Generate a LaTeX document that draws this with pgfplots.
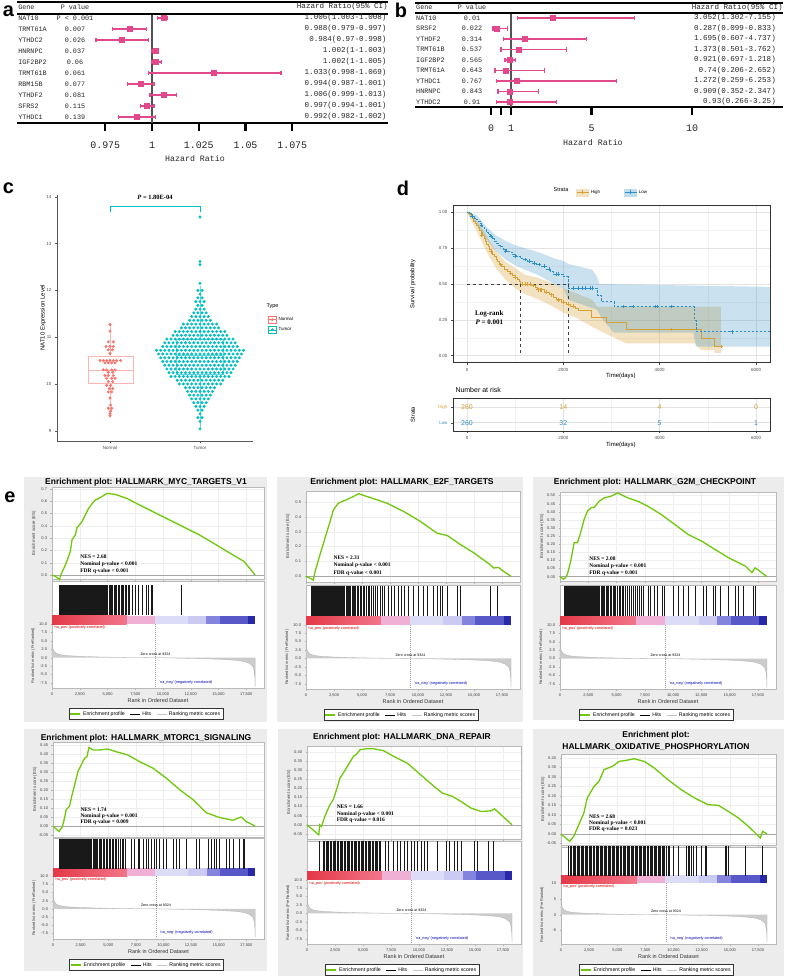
\documentclass[border=0pt]{standalone}
\usepackage{pgfplots}
\pgfplotsset{compat=1.18}
\usepackage{fontspec}
\setmainfont{Liberation Sans}
\newfontfamily\tnr{Liberation Serif}
\newfontfamily\mono{Liberation Mono}
\newcommand{\fsz}[1]{\fontsize{#1}{#1}\selectfont}
\definecolor{fpink}{RGB}{226,72,140}
\definecolor{nred}{RGB}{248,118,109}
\definecolor{tcyan}{RGB}{0,191,196}
\definecolor{kmo}{RGB}{214,160,52}
\definecolor{kmb}{RGB}{46,142,198}
\definecolor{ggreen}{RGB}{112,200,10}
\definecolor{gbg}{RGB}{236,236,236}
\definecolor{cb1}{RGB}{228,56,70}
\definecolor{cb2}{RGB}{242,118,138}
\definecolor{cb3}{RGB}{240,176,214}
\definecolor{cb4}{RGB}{220,220,247}
\definecolor{cb5}{RGB}{202,202,242}
\definecolor{cb6}{RGB}{132,132,222}
\definecolor{cb7}{RGB}{88,88,200}
\definecolor{cb8}{RGB}{40,40,168}
\pgfplotsset{/pgf/number format/assume math mode=true}
\tikzset{
  ftg/.style={font=\mono\fsz{6.8}, inner sep=0pt, text=black!85},
  fth/.style={font=\mono\fsz{7.6}, inner sep=0pt, text=black!85},
  ftk/.style={font=\mono\fsz{10}, inner sep=0pt, text=black!85},
  nes/.style={font=\tnr\bfseries\fsz{5.5}, anchor=west, inner sep=0pt},
  gtitle/.style={font=\bfseries\fsz{8.5}, inner sep=0pt},
  plet/.style={font=\bfseries\fsz{20}, inner sep=0pt},
}
\newcommand{\frow}[7]{%
  \node[ftg, anchor=west] at (axis cs:#2,#1) {#3};
  \node[ftg] at (axis cs:#4,#1) {#5};
  \node[fth, anchor=east] at (axis cs:#6,#1) {#7};}
\pgfplotsset{
  forest/.style={anchor=south west, scale only axis, clip=false,
    axis x line*=bottom, axis y line=none,
    x axis line style={-, line width=2.2bp},
    tick align=outside, major tick length=8bp,
    xtick style={line width=2.2bp, black}, xticklabels={}},
  frow/.style={only marks, fpink, mark=square*, mark size=2.5bp,
    error bars/.cd, x dir=both, x explicit,
    error bar style={line width=1.8bp, fpink},
    error mark options={rotate=90, line width=1.3bp, mark size=2.2bp, fpink}},
  hits/.style={forget plot, only marks, mark=|, mark size=15bp, mark options={line width=0.55bp, draw=black!90}},
  esax/.style={anchor=south west, scale only axis, xmin=0, xmax=19100, clip=false,
    axis background/.style={fill=white},
    axis line style={gray!55, line width=0.4bp}, tick pos=left,
    xtick={0,2500,5000,7500,10000,12500,15000,17500}, xticklabels={},
    grid=major, grid style={gray!13, line width=0.3bp},
    tick style={gray!60, line width=0.3bp}, major tick length=1.5bp, tick align=outside,
    yticklabel style={font=\fsz{4}, text=black!75, /pgf/number format/fixed, /pgf/number format/fixed zerofill, /pgf/number format/precision=2},
    ylabel={Enrichment score (ES)},
    ylabel style={font=\fsz{4.4}, text=black!75, at={(axis description cs:0,0.5)}, anchor=center, yshift=18bp}},
  loax/.style={anchor=south west, scale only axis, xmin=0, xmax=19100, clip=false,
    axis background/.style={fill=white},
    axis line style={gray!55, line width=0.4bp}, tick pos=left,
    xtick={0,2500,5000,7500,10000,12500,15000,17500}, scaled x ticks=false,
    xticklabel style={font=\fsz{4}, text=black!75, /pgf/number format/1000 sep={,}},
    tick style={gray!60, line width=0.3bp}, major tick length=1.5bp, tick align=outside,
    yticklabel style={font=\fsz{4}, text=black!75, /pgf/number format/fixed, /pgf/number format/fixed zerofill, /pgf/number format/precision=1},
    ytick={-7.5,-5,-2.5,0,2.5,5,7.5,10},
    xlabel={Rank in Ordered Dataset},
    xlabel style={font=\fsz{5.5}, text=black!80, at={(axis description cs:0.5,0)}, anchor=center, yshift=-13bp},
    ylabel={Ranked list metric (PreRanked)},
    ylabel style={font=\fsz{4}, text=black!75, at={(axis description cs:0,0.305)}, anchor=center, yshift=19bp},
    legend style={at={(axis description cs:0.5,0)}, anchor=center, xshift=-12bp, yshift=-26bp, legend columns=3, font=\fsz{5.2}, draw=black!80, inner sep=0.8bp, /tikz/every even column/.append style={column sep=3bp}},
    legend cell align=left,
    legend image code/.code={\draw[#1] (0bp,0bp) -- (10bp,0bp);}},
}
\newcommand{\lowercommon}{%
  \addplot[forget plot, draw=none, left color=cb1, right color=cb2] coordinates {(0,10)(6730,10)(6730,12.45)(0,12.45)};
  \addplot[forget plot, draw=none, fill=cb3] coordinates {(6730,10)(9270,10)(9270,12.45)(6730,12.45)};
  \addplot[forget plot, draw=none, fill=cb4] coordinates {(9270,10)(12260,10)(12260,12.45)(9270,12.45)};
  \addplot[forget plot, draw=none, fill=cb5] coordinates {(12260,10)(13900,10)(13900,12.45)(12260,12.45)};
  \addplot[forget plot, draw=none, fill=cb6] coordinates {(13900,10)(15100,10)(15100,12.45)(13900,12.45)};
  \addplot[forget plot, draw=none, fill=cb7] coordinates {(15100,10)(17640,10)(17640,12.45)(15100,12.45)};
  \addplot[forget plot, draw=none, fill=cb8] coordinates {(17640,10)(18300,10)(18300,12.45)(17640,12.45)};
  \addplot[forget plot, fill=gray!40, draw=gray!60, line width=0.3bp] coordinates {(0,0)(0,4.5)(40,3.3)(120,2.3)(250,1.6)(500,1.1)(900,0.8)(1500,0.6)(2500,0.42)(4000,0.25)(6000,0.12)(8000,0.04)(9324,0)(11000,-0.1)(13000,-0.25)(15000,-0.45)(16500,-0.75)(17300,-1.1)(17800,-1.7)(18100,-2.6)(18220,-4)(18280,-6)(18300,-8.6)(18300,0)};
  \addplot[forget plot, gray!80, line width=0.3bp, dash pattern=on 1bp off 1bp] coordinates {(9324,10)(9324,-8.9)};
  \node[font=\fsz{3.6}, inner sep=0pt] at (axis cs:9324,1.0) {Zero cross at 9324};
  \node[font=\fsz{3.8}, inner sep=0pt, anchor=west, text=red!85!black] at (axis cs:150,8.9) {'na\_pos' (positively correlated)};
  \node[font=\fsz{3.8}, inner sep=0pt, anchor=west, text=blue!70!black] at (axis cs:9650,-7.4) {'na\_neg' (negatively correlated)};
  \addlegendimage{ggreen, line width=1.2bp}\addlegendentry{Enrichment profile}
  \addlegendimage{black, line width=0.6bp}\addlegendentry{Hits}
  \addlegendimage{gray!45, line width=0.6bp}\addlegendentry{Ranking metric scores}
}
\begin{document}
\begin{tikzpicture}
\fill[white] (0,0) rectangle (786bp,-976bp);
\path[use as bounding box] (0,0) rectangle (786bp,-976bp);
% gray panels of e
\fill[gbg] (24bp,-477bp) rectangle (267bp,-722bp);
\fill[gbg] (277bp,-477bp) rectangle (523bp,-722bp);
\fill[gbg] (533bp,-477bp) rectangle (784bp,-720bp);
\fill[gbg] (24bp,-729bp) rectangle (267bp,-971bp);
\fill[gbg] (278bp,-729bp) rectangle (523bp,-976bp);
\fill[gbg] (533bp,-729bp) rectangle (784bp,-976bp);
% panel letters
\node[plet] at (8.5bp,-11bp) {a};
\node[plet] at (401bp,-10bp) {b};
\node[plet] at (8.5bp,-188bp) {c};
\node[plet] at (403bp,-188bp) {d};
\node[plet] at (10bp,-497bp) {e};

% ---------------- panel a
\begin{axis}[forest, at={(17bp,-123bp)}, width=371bp, height=121bp,
  xmin=0.92781, xmax=1.12620, ymin=-10.55, ymax=0.45,
  xtick={0.975,1,1.025,1.05,1.075}]
\addplot[forget plot, gray!65!black, line width=2.4bp] coordinates {(1,-0.64)(1,-10.55)};
\addplot[frow] coordinates {
(1.006,-1) += (0.002,0) -= (0.003,0)
(0.988,-2) += (0.009,0) -= (0.009,0)
(0.984,-3) += (0.014,0) -= (0.014,0)
(1.002,-4) += (0.001,0) -= (0.002,0)
(1.002,-5) += (0.003,0) -= (0.002,0)
(1.033,-6) += (0.036,0) -= (0.035,0)
(0.994,-7) += (0.007,0) -= (0.007,0)
(1.006,-8) += (0.007,0) -= (0.007,0)
(0.997,-9) += (0.004,0) -= (0.003,0)
(0.992,-10) += (0.010,0) -= (0.010,0)
};
\draw[line width=2.2bp] (rel axis cs:0,1) -- (rel axis cs:1,1);
\draw[line width=2bp] (axis cs:0.92781,-0.64) -- (axis cs:1.12620,-0.64);
\node[ftg, anchor=west] at (axis cs:0.9284,0) {Gene};
\node[ftg] at (axis cs:0.95882,0) {P value};
\node[fth, anchor=east] at (axis cs:1.1262,0) {Hazard Ratio(95\% CI)};
\frow{-1}{0.9284}{NAT10}{0.95882}{P < 0.001}{1.1255}{1.006(1.003-1.008)}
\frow{-2}{0.9284}{TRMT61A}{0.95882}{0.007}{1.1255}{0.988(0.979-0.997)}
\frow{-3}{0.9284}{YTHDC2}{0.95882}{0.026}{1.1255}{0.984(0.97-0.998)}
\frow{-4}{0.9284}{HNRNPC}{0.95882}{0.037}{1.1255}{1.002(1-1.003)}
\frow{-5}{0.9284}{IGF2BP2}{0.95882}{0.06}{1.1255}{1.002(1-1.005)}
\frow{-6}{0.9284}{TRMT61B}{0.95882}{0.061}{1.1255}{1.033(0.998-1.069)}
\frow{-7}{0.9284}{RBM15B}{0.95882}{0.077}{1.1255}{0.994(0.987-1.001)}
\frow{-8}{0.9284}{YTHDF2}{0.95882}{0.081}{1.1255}{1.006(0.999-1.013)}
\frow{-9}{0.9284}{SFRS2}{0.95882}{0.115}{1.1255}{0.997(0.994-1.001)}
\frow{-10}{0.9284}{YTHDC1}{0.95882}{0.139}{1.1255}{0.992(0.982-1.002)}
\node[ftk] at (axis cs:0.975,-12.55) {0.975};
\node[ftk] at (axis cs:1,-12.55) {1};
\node[ftk] at (axis cs:1.025,-12.55) {1.025};
\node[ftk] at (axis cs:1.05,-12.55) {1.05};
\node[ftk] at (axis cs:1.075,-12.55) {1.075};
\node[font=\mono\fsz{8.3}, text=black!85] at (axis cs:1.023,-13.82) {Hazard Ratio};
\end{axis}

% ---------------- panel b
\begin{axis}[forest, at={(415bp,-107bp)}, width=368bp, height=104bp,
  xmin=-3.781, xmax=14.527, ymin=-9.476, ymax=0.4286,
  xtick={0,0.5,1,5,10}]
\addplot[forget plot, gray!65!black, line width=2.4bp] coordinates {(1,-0.524)(1,-9.476)};
\addplot[frow] coordinates {
(3.052,-1) += (4.103,0) -= (1.75,0)
(0.287,-2) += (0.546,0) -= (0.188,0)
(1.695,-3) += (3.042,0) -= (1.088,0)
(1.373,-4) += (2.389,0) -= (0.872,0)
(0.921,-5) += (0.297,0) -= (0.224,0)
(0.74,-6) += (1.912,0) -= (0.534,0)
(1.272,-7) += (4.981,0) -= (1.013,0)
(0.909,-8) += (1.438,0) -= (0.557,0)
(0.93,-9) += (2.32,0) -= (0.664,0)
};
\draw[line width=2.2bp] (rel axis cs:0,1) -- (rel axis cs:1,1);
\draw[line width=2bp] (axis cs:-3.781,-0.524) -- (axis cs:14.527,-0.524);
\node[ftg, anchor=west] at (axis cs:-3.73,0) {Gene};
\node[ftg] at (axis cs:-0.945,0) {P value};
\node[fth, anchor=east] at (axis cs:14.52,0) {Hazard Ratio(95\% CI)};
\frow{-1}{-3.73}{NAT10}{-0.945}{0.01}{14.18}{3.052(1.302-7.155)}
\frow{-2}{-3.73}{SRSF2}{-0.945}{0.022}{14.18}{0.287(0.099-0.833)}
\frow{-3}{-3.73}{YTHDF2}{-0.945}{0.314}{14.18}{1.695(0.607-4.737)}
\frow{-4}{-3.73}{TRMT61B}{-0.945}{0.537}{14.18}{1.373(0.501-3.762)}
\frow{-5}{-3.73}{IGF2BP2}{-0.945}{0.565}{14.18}{0.921(0.697-1.218)}
\frow{-6}{-3.73}{TRMT61A}{-0.945}{0.643}{14.18}{0.74(0.206-2.652)}
\frow{-7}{-3.73}{YTHDC1}{-0.945}{0.767}{14.18}{1.272(0.259-6.253)}
\frow{-8}{-3.73}{HNRNPC}{-0.945}{0.843}{14.18}{0.909(0.352-2.347)}
\frow{-9}{-3.73}{YTHDC2}{-0.945}{0.91}{14.18}{0.93(0.266-3.25)}
\node[ftk] at (axis cs:0,-11.48) {0};
\node[ftk] at (axis cs:1,-11.48) {1};
\node[ftk] at (axis cs:5,-11.48) {5};
\node[ftk] at (axis cs:10,-11.48) {10};
\node[font=\mono\fsz{8.3}, text=black!85] at (axis cs:5.07,-12.9) {Hazard Ratio};
\end{axis}

% ---------------- panel c
\node[anchor=west, font=\fsz{5.5}] at (263bp,-306bp) {Type};
\begin{axis}[at={(57bp,-441bp)}, anchor=south west, scale only axis, width=196bp, height=246bp,
  xmin=0.411, xmax=2.589, ymin=8.78, ymax=14.04,
  axis x line*=bottom, axis y line*=left, axis line style={-, black!65, line width=0.5bp},
  xtick={1,2}, xticklabels={Normal,Tumor}, ytick={9,10,11,12,13,14},
  tick style={black!65, line width=0.4bp}, major tick length=2bp, tick align=outside,
  xticklabel style={font=\fsz{4.5}, text=black!70}, yticklabel style={font=\fsz{4.5}, text=black!70},
  ylabel={NAT10 Expression Level}, ylabel style={font=\fsz{6}, at={(axis description cs:0,0.5)}, anchor=center, yshift=14bp},
  clip=false,
  legend style={at={(axis description cs:1.061,0.52)}, anchor=north west, draw=none, fill=none, font=\fsz{4.5}, row sep=1.5bp},
  legend cell align=left,
  legend image code/.code={\draw[#1, line width=0.4bp] (0bp,-3.5bp) rectangle (8bp,3.5bp); \draw[#1, line width=0.4bp] (0bp,0bp) -- (8bp,0bp); \fill[#1] (4bp,0bp) circle (1.2bp);}]
\addplot[forget plot, nred!55, line width=0.6bp] coordinates {(0.759,10.02)(1.259,10.02)(1.259,10.6)(0.759,10.6)(0.759,10.02)};
\addplot[forget plot, nred!55, line width=0.8bp] coordinates {(0.759,10.3)(1.259,10.3)};
\addplot[forget plot, nred!55, line width=0.6bp] coordinates {(1,10.6)(1,11.27)};
\addplot[forget plot, nred!55, line width=0.6bp] coordinates {(1,10.02)(1,9.32)};
\addplot[forget plot, tcyan!60, line width=0.6bp] coordinates {(1.74,10.2)(2.26,10.2)(2.26,10.95)(1.74,10.95)(1.74,10.2)};
\addplot[forget plot, tcyan!60, line width=0.8bp] coordinates {(1.74,10.6)(2.26,10.6)};
\addplot[forget plot, tcyan!60, line width=0.6bp] coordinates {(2,10.95)(2,12.1)};
\addplot[forget plot, tcyan!60, line width=0.6bp] coordinates {(2,10.2)(2,9.05)};
\addplot[forget plot, only marks, nred, mark=*, mark size=1.3bp] coordinates {
(1,11.27)(1,11.13)(0.981,10.9)(1.037,10.9)(0.956,10.8)(1,10.8)(1.037,10.8)(0.981,10.73)(1.026,10.73)(1,10.65)
(0.889,10.5)(0.926,10.5)(0.963,10.5)(1,10.5)(1.037,10.5)(1.074,10.5)(1.119,10.5)
(0.944,10.45)(0.981,10.45)(1.019,10.45)(1.056,10.45)
(0.926,10.3)(0.963,10.3)(1.019,10.3)(1.056,10.3)(0.981,10.25)(1.03,10.25)
(0.944,10.18)(0.981,10.18)(1.037,10.18)(0.963,10.12)(1.019,10.12)(1.056,10.12)
(0.981,10.05)(1.03,10.05)(0.963,9.97)(1.007,9.97)(0.993,9.9)(1.03,9.9)(0.981,9.83)(1.019,9.83)
(1,9.7)(1.007,9.55)(0.981,9.48)(1.019,9.48)(1.007,9.42)(1,9.37)(1,9.32)};
\addplot[forget plot, only marks, tcyan, mark=*, mark size=1.3bp] coordinates {
(2,9.04)(2,9.2)(1.977,9.28)(2.023,9.28)(2,9.36)(1.977,9.44)(2.023,9.44)
(1.954,9.52)(2,9.52)(2.046,9.52)
(1.931,9.6)(1.977,9.6)(2.023,9.6)(2.069,9.6)
(1.908,9.68)(1.954,9.68)(2,9.68)(2.046,9.68)(2.092,9.68)
(1.885,9.76)(1.931,9.76)(1.977,9.76)(2.023,9.76)(2.069,9.76)(2.115,9.76)
(1.862,9.84)(1.908,9.84)(1.954,9.84)(2,9.84)(2.046,9.84)(2.092,9.84)(2.138,9.84)
(1.839,9.92)(1.885,9.92)(1.931,9.92)(1.977,9.92)(2.023,9.92)(2.069,9.92)(2.115,9.92)(2.161,9.92)
(1.77,10)(1.816,10)(1.862,10)(1.908,10)(1.954,10)(2,10)(2.046,10)(2.092,10)(2.138,10)(2.184,10)(2.23,10)
(1.747,10.08)(1.793,10.08)(1.839,10.08)(1.885,10.08)(1.931,10.08)(1.977,10.08)(2.023,10.08)(2.069,10.08)(2.115,10.08)(2.161,10.08)(2.207,10.08)(2.253,10.08)
(1.678,10.16)(1.724,10.16)(1.77,10.16)(1.816,10.16)(1.862,10.16)(1.908,10.16)(1.954,10.16)(2,10.16)(2.046,10.16)(2.092,10.16)(2.138,10.16)(2.184,10.16)(2.23,10.16)(2.276,10.16)(2.322,10.16)
(1.655,10.24)(1.701,10.24)(1.747,10.24)(1.793,10.24)(1.839,10.24)(1.885,10.24)(1.931,10.24)(1.977,10.24)(2.023,10.24)(2.069,10.24)(2.115,10.24)(2.161,10.24)(2.207,10.24)(2.253,10.24)(2.299,10.24)(2.345,10.24)
(1.632,10.32)(1.678,10.32)(1.724,10.32)(1.77,10.32)(1.816,10.32)(1.862,10.32)(1.908,10.32)(1.954,10.32)(2,10.32)(2.046,10.32)(2.092,10.32)(2.138,10.32)(2.184,10.32)(2.23,10.32)(2.276,10.32)(2.322,10.32)(2.368,10.32)
(1.609,10.4)(1.655,10.4)(1.701,10.4)(1.747,10.4)(1.793,10.4)(1.839,10.4)(1.885,10.4)(1.931,10.4)(1.977,10.4)(2.023,10.4)(2.069,10.4)(2.115,10.4)(2.161,10.4)(2.207,10.4)(2.253,10.4)(2.299,10.4)(2.345,10.4)(2.391,10.4)
(1.586,10.48)(1.632,10.48)(1.678,10.48)(1.724,10.48)(1.77,10.48)(1.816,10.48)(1.862,10.48)(1.908,10.48)(1.954,10.48)(2,10.48)(2.046,10.48)(2.092,10.48)(2.138,10.48)(2.184,10.48)(2.23,10.48)(2.276,10.48)(2.322,10.48)(2.368,10.48)(2.414,10.48)
(1.563,10.56)(1.609,10.56)(1.655,10.56)(1.701,10.56)(1.747,10.56)(1.793,10.56)(1.839,10.56)(1.885,10.56)(1.931,10.56)(1.977,10.56)(2.023,10.56)(2.069,10.56)(2.115,10.56)(2.161,10.56)(2.207,10.56)(2.253,10.56)(2.299,10.56)(2.345,10.56)(2.391,10.56)(2.437,10.56)
(1.54,10.64)(1.586,10.64)(1.632,10.64)(1.678,10.64)(1.724,10.64)(1.77,10.64)(1.816,10.64)(1.862,10.64)(1.908,10.64)(1.954,10.64)(2,10.64)(2.046,10.64)(2.092,10.64)(2.138,10.64)(2.184,10.64)(2.23,10.64)(2.276,10.64)(2.322,10.64)(2.368,10.64)(2.414,10.64)(2.46,10.64)
(1.517,10.72)(1.563,10.72)(1.609,10.72)(1.655,10.72)(1.701,10.72)(1.747,10.72)(1.793,10.72)(1.839,10.72)(1.885,10.72)(1.931,10.72)(1.977,10.72)(2.023,10.72)(2.069,10.72)(2.115,10.72)(2.161,10.72)(2.207,10.72)(2.253,10.72)(2.299,10.72)(2.345,10.72)(2.391,10.72)(2.437,10.72)(2.483,10.72)
(1.586,10.8)(1.632,10.8)(1.678,10.8)(1.724,10.8)(1.77,10.8)(1.816,10.8)(1.862,10.8)(1.908,10.8)(1.954,10.8)(2,10.8)(2.046,10.8)(2.092,10.8)(2.138,10.8)(2.184,10.8)(2.23,10.8)(2.276,10.8)(2.322,10.8)(2.368,10.8)(2.414,10.8)
(1.609,10.88)(1.655,10.88)(1.701,10.88)(1.747,10.88)(1.793,10.88)(1.839,10.88)(1.885,10.88)(1.931,10.88)(1.977,10.88)(2.023,10.88)(2.069,10.88)(2.115,10.88)(2.161,10.88)(2.207,10.88)(2.253,10.88)(2.299,10.88)(2.345,10.88)(2.391,10.88)
(1.632,10.96)(1.678,10.96)(1.724,10.96)(1.77,10.96)(1.816,10.96)(1.862,10.96)(1.908,10.96)(1.954,10.96)(2,10.96)(2.046,10.96)(2.092,10.96)(2.138,10.96)(2.184,10.96)(2.23,10.96)(2.276,10.96)(2.322,10.96)(2.368,10.96)
(1.701,11.04)(1.747,11.04)(1.793,11.04)(1.839,11.04)(1.885,11.04)(1.931,11.04)(1.977,11.04)(2.023,11.04)(2.069,11.04)(2.115,11.04)(2.161,11.04)(2.207,11.04)(2.253,11.04)(2.299,11.04)
(1.724,11.12)(1.77,11.12)(1.816,11.12)(1.862,11.12)(1.908,11.12)(1.954,11.12)(2,11.12)(2.046,11.12)(2.092,11.12)(2.138,11.12)(2.184,11.12)(2.23,11.12)(2.276,11.12)
(1.793,11.2)(1.839,11.2)(1.885,11.2)(1.931,11.2)(1.977,11.2)(2.023,11.2)(2.069,11.2)(2.115,11.2)(2.161,11.2)(2.207,11.2)
(1.816,11.28)(1.862,11.28)(1.908,11.28)(1.954,11.28)(2,11.28)(2.046,11.28)(2.092,11.28)(2.138,11.28)(2.184,11.28)
(1.885,11.36)(1.931,11.36)(1.977,11.36)(2.023,11.36)(2.069,11.36)(2.115,11.36)
(1.908,11.44)(1.954,11.44)(2,11.44)(2.046,11.44)(2.092,11.44)
(1.931,11.52)(1.977,11.52)(2.023,11.52)(2.069,11.52)
(1.954,11.6)(2,11.6)(2.046,11.6)
(1.977,11.68)(2.023,11.68)
(1.954,11.76)(2,11.76)(2.046,11.76)
(1.977,11.84)(2.023,11.84)
(2,11.92)(1.977,12)(2.023,12)(2,12.15)(2,12.55)(2,12.62)(2,13.57)};
\addplot[forget plot, tcyan, line width=0.5bp] coordinates {(1,13.68)(1,13.8)(2,13.8)(2,13.68)};
\node[font=\tnr\bfseries\fsz{6.5}] at (axis cs:1.5,13.98) {\textit{P} = 1.80E-04};
\addlegendimage{nred}\addlegendentry{Normal}
\addlegendimage{tcyan}\addlegendentry{Tumor}
\end{axis}

% ---------------- panel d
\node[font=\fsz{5.5}] at (561bp,-190bp) {Strata};
\begin{axis}[at={(453bp,-362.7bp)}, anchor=south west, scale only axis, width=317.7bp, height=157.7bp,
  xmin=-290.6, xmax=6305, ymin=-0.049, ymax=1.051,
  xtick={0,2000,4000,6000}, minor xtick={1000,3000,5000}, ytick={0,0.25,0.5,0.75,1}, minor ytick={0.125,0.375,0.625,0.875},
  grid=both, major grid style={gray!22, line width=0.45bp}, minor grid style={gray!10, line width=0.35bp},
  axis line style={black!80, line width=0.5bp}, tick style={black!70, line width=0.4bp}, major tick length=2bp, minor tick length=0bp, tick align=outside, tick pos=left,
  scaled x ticks=false, xticklabel style={font=\fsz{4.5}, text=black!70, /pgf/number format/1000 sep={}},
  yticklabel style={font=\fsz{4.5}, text=black!70, /pgf/number format/fixed, /pgf/number format/fixed zerofill, /pgf/number format/precision=2},
  xlabel={Time(days)}, xlabel style={font=\fsz{6}, at={(axis description cs:0.5,0)}, anchor=center, yshift=-13.3bp, xshift=9bp},
  ylabel={Survival probability}, ylabel style={font=\fsz{5.8}, at={(axis description cs:0,0.5)}, anchor=center, yshift=40bp},
  legend style={at={(axis description cs:0.378,1)}, anchor=south west, yshift=6bp, legend columns=2, draw=none, fill=none, font=\fsz{4.5}, /tikz/every even column/.append style={column sep=22bp}}]
\addplot[forget plot, draw=none, fill=kmo, fill opacity=0.3] coordinates {(0,1)(200,0.95)(400,0.84)(600,0.73)(800,0.655)(1000,0.61)(1200,0.565)(1500,0.54)(1800,0.5)(2000,0.47)(2300,0.43)(2600,0.39)(2700,0.342)(5273,0.342)(5273,0.02)(5135,0.02)(5135,0.04)(4860,0.04)(4720,0.086)(3300,0.086)(2900,0.15)(2600,0.2)(2300,0.26)(2000,0.3)(1800,0.34)(1500,0.39)(1200,0.43)(1000,0.47)(800,0.53)(600,0.61)(400,0.73)(200,0.87)(0,1)};
\addplot[forget plot, draw=none, fill=kmb, fill opacity=0.25] coordinates {(0,1)(200,0.98)(400,0.9)(600,0.84)(800,0.8)(1000,0.77)(1200,0.75)(1500,0.72)(1800,0.68)(2000,0.66)(2100,0.64)(2600,0.6)(2700,0.55)(2750,0.5)(6300,0.48)(6300,0.063)(4760,0.063)(4720,0.12)(4700,0.16)(3050,0.16)(2800,0.26)(2700,0.32)(2100,0.39)(2000,0.47)(1800,0.5)(1500,0.56)(1200,0.6)(1000,0.63)(800,0.67)(600,0.73)(400,0.81)(200,0.92)(0,1)};
\addplot[forget plot, const plot, kmo, line width=0.7bp] coordinates {(0,1)(20,0.995)(50,0.985)(80,0.97)(110,0.955)(140,0.94)(170,0.925)(200,0.91)(230,0.895)(260,0.875)(290,0.86)(320,0.84)(350,0.82)(380,0.8)(410,0.78)(440,0.76)(470,0.74)(500,0.725)(530,0.71)(560,0.695)(600,0.675)(640,0.655)(680,0.635)(720,0.62)(770,0.605)(830,0.59)(890,0.575)(950,0.56)(1000,0.545)(1040,0.53)(1080,0.515)(1110,0.5)(1330,0.49)(1420,0.475)(1470,0.46)(1600,0.445)(1700,0.425)(1800,0.405)(1860,0.39)(1960,0.375)(2060,0.36)(2150,0.345)(2250,0.33)(2320,0.315)(2580,0.27)(2890,0.23)(3300,0.184)(4860,0.121)(5135,0.063)(5273,0.063)};
\addplot[forget plot, const plot, kmb, line width=0.7bp, dash pattern=on 2.5bp off 1.5bp] coordinates {(0,1)(40,0.99)(80,0.98)(120,0.97)(160,0.96)(200,0.95)(240,0.94)(280,0.92)(320,0.9)(360,0.88)(400,0.86)(440,0.845)(480,0.83)(520,0.815)(560,0.8)(600,0.785)(650,0.77)(700,0.76)(760,0.745)(820,0.73)(880,0.72)(950,0.705)(1020,0.695)(1100,0.68)(1150,0.67)(1250,0.66)(1350,0.645)(1450,0.635)(1550,0.625)(1650,0.605)(1720,0.59)(1790,0.57)(1990,0.55)(2094,0.47)(2700,0.423)(2786,0.377)(3050,0.342)(4720,0.249)(4760,0.167)(6300,0.167)};
\addplot[forget plot, only marks, mark=+, mark size=1.8bp, kmo, mark options={line width=0.5bp}] coordinates {(300,0.84)(500,0.725)(700,0.635)(900,0.575)(1000,0.545)(1150,0.5)(1200,0.5)(1260,0.5)(1320,0.5)(1380,0.49)(1480,0.46)(1520,0.46)(1550,0.46)(1650,0.445)(1750,0.425)(1900,0.39)(2000,0.375)(2100,0.36)(2200,0.345)(4250,0.184)(5273,0.063)};
\addplot[forget plot, only marks, mark=+, mark size=1.8bp, kmb, mark options={line width=0.5bp}] coordinates {(100,0.975)(300,0.91)(500,0.83)(800,0.73)(1000,0.695)(1200,0.67)(1300,0.66)(1400,0.645)(1500,0.635)(1600,0.625)(1700,0.605)(1850,0.57)(1900,0.57)(2200,0.47)(2300,0.47)(2400,0.47)(2450,0.47)(2550,0.47)(2600,0.47)(3250,0.342)(3450,0.342)(3900,0.342)(3950,0.342)(4250,0.342)(5500,0.167)};
\addplot[forget plot, black!75, dashed, line width=0.5bp] coordinates {(0,0.5)(2094,0.5)};
\addplot[forget plot, black!75, dashed, line width=0.5bp] coordinates {(1100,0.5)(1100,0)};
\addplot[forget plot, black!75, dashed, line width=0.5bp] coordinates {(2094,0.5)(2094,0)};
\node[font=\tnr\bfseries\fsz{7}] at (axis cs:463,0.295) {Log-rank};
\node[font=\tnr\bfseries\fsz{7}] at (axis cs:463,0.23) {\textit{P} = 0.001};
\addlegendimage{legend image code/.code={\fill[kmo!30] (0bp,-3.5bp) rectangle (12bp,3.5bp); \draw[kmo, line width=0.7bp] (0bp,0bp)--(12bp,0bp); \draw[kmo, line width=0.5bp] (6bp,-2bp)--(6bp,2bp);}}
\addlegendentry{High}
\addlegendimage{legend image code/.code={\fill[kmb!30] (0bp,-3.5bp) rectangle (12bp,3.5bp); \draw[kmb, line width=0.7bp] (0bp,0bp)--(12bp,0bp); \draw[kmb, line width=0.5bp] (6bp,-2bp)--(6bp,2bp);}}
\addlegendentry{Low}
\end{axis}
\node[anchor=west, font=\fsz{7}] at (452bp,-390bp) {Number at risk};
\begin{axis}[at={(453bp,-431bp)}, anchor=south west, scale only axis, width=317.7bp, height=32.7bp,
  xmin=-290.6, xmax=6305, ymin=0.461, ymax=2.584,
  xtick={0,2000,4000,6000}, minor xtick={1000,3000,5000}, ytick={1,2}, yticklabels={\textcolor{kmb}{Low},\textcolor{kmo}{High}},
  grid=both, major grid style={gray!22, line width=0.45bp}, minor grid style={gray!10, line width=0.35bp},
  axis line style={black!80, line width=0.5bp}, tick style={black!70, line width=0.4bp}, major tick length=2bp, minor tick length=0bp, tick align=outside, tick pos=left,
  scaled x ticks=false, xticklabel style={font=\fsz{4.5}, text=black!70, /pgf/number format/1000 sep={}},
  yticklabel style={font=\fsz{4.5}},
  xlabel={Time(days)}, xlabel style={font=\fsz{6}, at={(axis description cs:0.5,0)}, anchor=center, yshift=-13.5bp, xshift=9bp},
  ylabel={Strata}, ylabel style={font=\fsz{5.8}, at={(axis description cs:0,0.5)}, anchor=center, yshift=40bp}]
\node[font=\fsz{7}, text=kmo] at (axis cs:0,2) {260};
\node[font=\fsz{7}, text=kmo] at (axis cs:2000,2) {14};
\node[font=\fsz{7}, text=kmo] at (axis cs:4000,2) {4};
\node[font=\fsz{7}, text=kmo] at (axis cs:6000,2) {0};
\node[font=\fsz{7}, text=kmb] at (axis cs:0,1) {260};
\node[font=\fsz{7}, text=kmb] at (axis cs:2000,1) {32};
\node[font=\fsz{7}, text=kmb] at (axis cs:4000,1) {5};
\node[font=\fsz{7}, text=kmb] at (axis cs:6000,1) {1};
\end{axis}

% ---------------- panel e titles
\node[gtitle] at (146bp,-482bp) {Enrichment plot: HALLMARK\_MYC\_TARGETS\_V1};
\node[gtitle] at (402bp,-482bp) {Enrichment plot: HALLMARK\_E2F\_TARGETS};
\node[gtitle] at (655bp,-482bp) {Enrichment plot: HALLMARK\_G2M\_CHECKPOINT};
\node[gtitle] at (146bp,-738bp) {Enrichment plot: HALLMARK\_MTORC1\_SIGNALING};
\node[gtitle] at (402bp,-737bp) {Enrichment plot: HALLMARK\_DNA\_REPAIR};
\node[gtitle] at (656bp,-735bp) {Enrichment plot:};
\node[gtitle] at (656bp,-747bp) {HALLMARK\_OXIDATIVE\_PHOSPHORYLATION};

% ---- E1
\begin{axis}[esax, at={(52bp,-579bp)}, width=212bp, height=92bp, ymin=-0.033, ymax=0.716,
  ytick={0,0.1,0.2,0.3,0.4,0.5,0.6,0.7}, yticklabel style={/pgf/number format/precision=1}]
\addplot[forget plot, gray!70, line width=0.4bp] coordinates {(0,0)(19100,0)};
\addplot[forget plot, ggreen, line width=1.3bp] coordinates {(0,0)(300,-0.012)(690,-0.038)(750,-0.01)(900,0.022)(1200,0.08)(1450,0.14)(1650,0.19)(1800,0.285)(2100,0.325)(2250,0.385)(2700,0.433)(3000,0.488)(3300,0.542)(3650,0.585)(3900,0.61)(4350,0.63)(4950,0.664)(5300,0.66)(5700,0.656)(6200,0.64)(6750,0.623)(7900,0.569)(9100,0.515)(10300,0.461)(11800,0.393)(13300,0.325)(14800,0.245)(16300,0.163)(17300,0.11)(18300,0)};
\node[nes] at (axis cs:2540,0.146) {NES = 2.68};
\node[nes] at (axis cs:2540,0.09) {Nominal p-value < 0.001};
\node[nes] at (axis cs:2540,0.034) {FDR q-value < 0.001};
\end{axis}
\begin{axis}[loax, at={(52bp,-688bp)}, width=212bp, height=107bp, ymin=-8.99, ymax=22.76]
\lowercommon
\addplot[hits] coordinates {(650,17)(730,17)(800,17)(880,17)(940,17)(1010,17)(1090,17)(1160,17)(1240,17)(1300,17)(1380,17)(1450,17)(1530,17)(1600,17)(1680,17)(1740,17)(1820,17)(1900,17)(1970,17)(2050,17)(2120,17)(2190,17)(2270,17)(2340,17)(2420,17)(2490,17)(2570,17)(2650,17)(2720,17)(2800,17)(2870,17)(2950,17)(3020,17)(3100,17)(3180,17)(3250,17)(3330,17)(3420,17)(3500,17)(3580,17)(3650,17)(3740,17)(3820,17)(3910,17)(3990,17)(4080,17)(4170,17)(4260,17)(4350,17)(4440,17)(4530,17)(4620,17)(4720,17)(4820,17)(4920,17)(5020,17)(5130,17)(5230,17)(5350,17)(5460,17)(5580,17)(5700,17)(5830,17)(5950,17)(6080,17)(6200,17)(6330,17)(6460,17)(6600,17)(6720,17)(6850,17)(7000,17)(7250,17)(7500,17)(7750,17)(8100,17)(8450,17)(8650,17)(8900,17)(9050,17)(11650,17)};
\end{axis}

% ---- E2
\begin{axis}[esax, at={(306bp,-582bp)}, width=214bp, height=91bp, ymin=-0.038, ymax=0.574,
  ytick={0,0.1,0.2,0.3,0.4,0.5}, yticklabel style={/pgf/number format/precision=1}]
\addplot[forget plot, gray!70, line width=0.4bp] coordinates {(0,0)(19100,0)};
\addplot[forget plot, ggreen, line width=1.3bp] coordinates {(0,0)(500,-0.018)(650,-0.025)(800,0.03)(1250,0.146)(1700,0.258)(2150,0.37)(2450,0.448)(2900,0.493)(3650,0.516)(4250,0.538)(4700,0.556)(5400,0.538)(6300,0.516)(7200,0.493)(8700,0.437)(10200,0.37)(11700,0.29)(12600,0.275)(13800,0.213)(15000,0.157)(16450,0.078)(16750,0.056)(17200,0.06)(17500,0.04)(18300,0)};
\node[nes] at (axis cs:2444,0.123) {NES = 2.31};
\node[nes] at (axis cs:2444,0.072) {Nominal p-value < 0.001};
\node[nes] at (axis cs:2444,0.022) {FDR q-value < 0.001};
\end{axis}
\begin{axis}[loax, at={(306bp,-689bp)}, width=214bp, height=104bp, ymin=-9.07, ymax=21.78]
\lowercommon
\addplot[hits] coordinates {(500,17)(570,17)(640,17)(710,17)(780,17)(850,17)(920,17)(990,17)(1060,17)(1130,17)(1200,17)(1270,17)(1340,17)(1410,17)(1480,17)(1550,17)(1620,17)(1690,17)(1760,17)(1830,17)(1900,17)(1970,17)(2040,17)(2110,17)(2180,17)(2250,17)(2320,17)(2390,17)(2460,17)(2530,17)(2600,17)(2680,17)(2760,17)(2840,17)(2920,17)(3000,17)(3090,17)(3180,17)(3270,17)(3360,17)(3460,17)(3560,17)(3660,17)(3760,17)(3870,17)(3980,17)(4090,17)(4200,17)(4320,17)(4440,17)(4560,17)(4690,17)(4820,17)(4950,17)(5090,17)(5230,17)(5380,17)(5530,17)(5690,17)(5850,17)(6020,17)(6200,17)(6400,17)(6600,17)(6800,17)(7000,17)(7300,17)(7600,17)(7900,17)(8200,17)(8500,17)(8800,17)(9150,17)(9600,17)(10040,17)(10490,17)(10790,17)(11380,17)(11680,17)(11980,17)(12130,17)(12580,17)(13470,17)(13770,17)(16450,17)(17100,17)};
\end{axis}

% ---- E3
\begin{axis}[esax, at={(560bp,-581bp)}, width=216bp, height=89bp, ymin=-0.027, ymax=0.522,
  ytick={0,0.05,0.1,0.15,0.2,0.25,0.3,0.35,0.4,0.45,0.5}]
\addplot[forget plot, gray!70, line width=0.4bp] coordinates {(0,0)(19100,0)};
\addplot[forget plot, ggreen, line width=1.3bp] coordinates {(0,0)(300,-0.016)(500,-0.006)(650,0.014)(950,0.096)(1250,0.209)(1540,0.209)(1780,0.26)(2130,0.352)(2430,0.404)(2730,0.424)(3030,0.428)(3470,0.465)(3920,0.486)(4510,0.496)(5100,0.516)(5990,0.486)(6880,0.465)(7770,0.434)(8960,0.383)(10140,0.322)(11330,0.26)(12520,0.219)(13700,0.168)(14890,0.117)(15780,0.086)(16370,0.066)(16970,0.025)(17260,0.055)(18300,0)};
\node[nes] at (axis cs:2580,0.113) {NES = 2.08};
\node[nes] at (axis cs:2580,0.066) {Nominal p-value < 0.001};
\node[nes] at (axis cs:2580,0.02) {FDR q-value = 0.001};
\end{axis}
\begin{axis}[loax, at={(560bp,-689bp)}, width=216bp, height=104bp, ymin=-8.97, ymax=21.71]
\lowercommon
\addplot[hits] coordinates {(350,17)(420,17)(490,17)(560,17)(630,17)(700,17)(770,17)(840,17)(910,17)(980,17)(1050,17)(1120,17)(1190,17)(1260,17)(1330,17)(1400,17)(1480,17)(1560,17)(1640,17)(1720,17)(1800,17)(1880,17)(1960,17)(2040,17)(2120,17)(2200,17)(2290,17)(2380,17)(2470,17)(2560,17)(2650,17)(2740,17)(2830,17)(2920,17)(3010,17)(3110,17)(3210,17)(3310,17)(3410,17)(3510,17)(3620,17)(3730,17)(3840,17)(3950,17)(4060,17)(4180,17)(4300,17)(4420,17)(4540,17)(4670,17)(4800,17)(4930,17)(5060,17)(5200,17)(5340,17)(5480,17)(5630,17)(5780,17)(5940,17)(6100,17)(6270,17)(6440,17)(6620,17)(6800,17)(7000,17)(7200,17)(7400,17)(7770,17)(8000,17)(8300,17)(8600,17)(9000,17)(9250,17)(10000,17)(10440,17)(10890,17)(11330,17)(11920,17)(12660,17)(12960,17)(13550,17)(13700,17)(14150,17)(14890,17)(15480,17)(15720,17)(16220,17)(17110,17)(17260,17)};
\end{axis}

% ---- E4
\begin{axis}[esax, at={(53bp,-837bp)}, width=211bp, height=95bp, ymin=-0.06, ymax=0.467,
  ytick={-0.05,0,0.05,0.1,0.15,0.2,0.25,0.3,0.35,0.4,0.45}]
\addplot[forget plot, gray!70, line width=0.4bp] coordinates {(0,0)(19100,0)};
\addplot[forget plot, ggreen, line width=1.3bp] coordinates {(0,0)(540,-0.029)(840,-0.004)(1055,0.048)(1200,0.093)(1510,0.112)(1660,0.157)(1960,0.23)(2260,0.304)(2560,0.34)(2860,0.377)(3075,0.386)(3256,0.437)(3620,0.423)(4220,0.423)(4975,0.428)(5730,0.413)(6780,0.395)(7840,0.358)(9045,0.322)(10250,0.267)(11460,0.203)(12660,0.148)(13870,0.075)(15075,0.048)(16280,0.033)(17034,0.051)(17490,0.026)(18300,0)};
\node[nes] at (axis cs:2472,0.093) {NES = 1.74};
\node[nes] at (axis cs:2472,0.057) {Nominal p-value = 0.001};
\node[nes] at (axis cs:2472,0.02) {FDR q-value = 0.009};
\end{axis}
\begin{axis}[loax, at={(53bp,-939bp)}, width=211bp, height=101bp, ymin=-9.25, ymax=21.76]
\lowercommon
\addplot[hits] coordinates {(540,17)(620,17)(700,17)(780,17)(860,17)(940,17)(1020,17)(1100,17)(1180,17)(1260,17)(1340,17)(1420,17)(1500,17)(1580,17)(1660,17)(1740,17)(1820,17)(1900,17)(1990,17)(2080,17)(2170,17)(2260,17)(2350,17)(2440,17)(2530,17)(2620,17)(2710,17)(2800,17)(2900,17)(3000,17)(3100,17)(3200,17)(3300,17)(3400,17)(3500,17)(3610,17)(3720,17)(3830,17)(3940,17)(4050,17)(4170,17)(4290,17)(4410,17)(4530,17)(4660,17)(4790,17)(4920,17)(5050,17)(5190,17)(5330,17)(5470,17)(5620,17)(5770,17)(5920,17)(6080,17)(6240,17)(6400,17)(6550,17)(7085,17)(7387,17)(7688,17)(7839,17)(8140,17)(8442,17)(8593,17)(8894,17)(9196,17)(9347,17)(9648,17)(9950,17)(10251,17)(10854,17)(11156,17)(11457,17)(12060,17)(12965,17)(13266,17)(14020,17)(14321,17)(14623,17)(14774,17)(15075,17)(15678,17)(15980,17)(16281,17)(16884,17)(17186,17)(17337,17)};
\end{axis}

% ---- E5
\begin{axis}[esax, at={(307bp,-839bp)}, width=214bp, height=93bp, ymin=-0.078, ymax=0.433,
  ytick={-0.05,0,0.05,0.1,0.15,0.2,0.25,0.3,0.35,0.4}]
\addplot[forget plot, gray!70, line width=0.4bp] coordinates {(0,0)(19100,0)};
\addplot[forget plot, ggreen, line width=1.3bp] coordinates {(0,0)(540,-0.028)(1050,-0.055)(1140,0)(1290,-0.009)(1590,0.046)(2040,0.11)(2340,0.138)(2640,0.193)(2940,0.257)(3240,0.284)(3690,0.33)(4140,0.376)(4440,0.389)(4740,0.413)(5340,0.418)(5940,0.418)(6840,0.407)(7740,0.376)(8940,0.339)(10140,0.275)(11340,0.211)(12090,0.174)(12990,0.156)(13740,0.128)(14640,0.092)(15540,0.073)(16440,0.077)(16740,0.088)(18300,0)};
\node[nes] at (axis cs:2640,0.097) {NES = 1.66};
\node[nes] at (axis cs:2640,0.061) {Nominal p-value < 0.001};
\node[nes] at (axis cs:2640,0.024) {FDR q-value = 0.016};
\end{axis}
\begin{axis}[loax, at={(307bp,-944bp)}, width=214bp, height=103bp, ymin=-9.07, ymax=21.48]
\lowercommon
\addplot[hits] coordinates {(1080,17)(1440,17)(1560,17)(1690,17)(1810,17)(1940,17)(2060,17)(2190,17)(2310,17)(2440,17)(2560,17)(2690,17)(2810,17)(2940,17)(3060,17)(3190,17)(3310,17)(3440,17)(3560,17)(3690,17)(3810,17)(3940,17)(4060,17)(4190,17)(4310,17)(4440,17)(4560,17)(4690,17)(4810,17)(4940,17)(5060,17)(5190,17)(5310,17)(5440,17)(5560,17)(5690,17)(5810,17)(5940,17)(6060,17)(6190,17)(6310,17)(6440,17)(6540,17)(6990,17)(7290,17)(7740,17)(8040,17)(8340,17)(8700,17)(8940,17)(9300,17)(9540,17)(9840,17)(10200,17)(10500,17)(10740,17)(11640,17)(12390,17)(12690,17)(13140,17)(13440,17)(13740,17)(14940,17)(15180,17)(16140,17)(16590,17)};
\end{axis}

% ---- E6
\begin{axis}[esax, at={(561bp,-845bp)}, width=215bp, height=91bp, ymin=-0.058, ymax=0.421,
  ytick={-0.05,0,0.05,0.1,0.15,0.2,0.25,0.3,0.35,0.4}]
\addplot[forget plot, gray!70, line width=0.4bp] coordinates {(0,0)(19100,0)};
\addplot[forget plot, ggreen, line width=1.3bp] coordinates {(0,0)(776,-0.039)(1134,-0.012)(1582,0.049)(2030,0.11)(2328,0.189)(2925,0.25)(3373,0.277)(3821,0.339)(4567,0.356)(5164,0.382)(5910,0.389)(6507,0.396)(7403,0.382)(8298,0.347)(9492,0.286)(10686,0.233)(11881,0.189)(13074,0.154)(13970,0.151)(14865,0.119)(15761,0.084)(16657,0.04)(17701,-0.021)(17910,0.014)(18300,0)};
\node[nes] at (axis cs:2478,0.093) {NES = 2.68};
\node[nes] at (axis cs:2478,0.058) {Nominal p-value < 0.001};
\node[nes] at (axis cs:2478,0.023) {FDR q-value = 0.023};
\end{axis}
\begin{axis}[loax, at={(561bp,-944bp)}, width=215bp, height=97bp, ymin=-9.24, ymax=21.36,
  ytick={-5,0,5,10}, yticklabel style={/pgf/number format/precision=0}]
\lowercommon
\addplot[hits] coordinates {(690,17)(810,17)(930,17)(1050,17)(1170,17)(1290,17)(1410,17)(1530,17)(1650,17)(1770,17)(1890,17)(2010,17)(2130,17)(2250,17)(2370,17)(2490,17)(2610,17)(2730,17)(2850,17)(2970,17)(3090,17)(3210,17)(3330,17)(3450,17)(3570,17)(3690,17)(3810,17)(3930,17)(4050,17)(4170,17)(4290,17)(4410,17)(4530,17)(4650,17)(4770,17)(4890,17)(5010,17)(5130,17)(5250,17)(5370,17)(5490,17)(5610,17)(5730,17)(5850,17)(5970,17)(6090,17)(6210,17)(6330,17)(6450,17)(6570,17)(6690,17)(6810,17)(6930,17)(7050,17)(7170,17)(7290,17)(7410,17)(7530,17)(7650,17)(7770,17)(7890,17)(8010,17)(8130,17)(8250,17)(8370,17)(8490,17)(8610,17)(8730,17)(8850,17)(8970,17)(9090,17)(9210,17)(9330,17)(9490,17)(9640,17)(9940,17)(10390,17)(11130,17)(11280,17)(11430,17)(11580,17)(11730,17)(12030,17)(12480,17)(12780,17)(12930,17)(14570,17)(14720,17)(14870,17)(16360,17)(17910,17)};
\end{axis}
\end{tikzpicture}
\end{document}
